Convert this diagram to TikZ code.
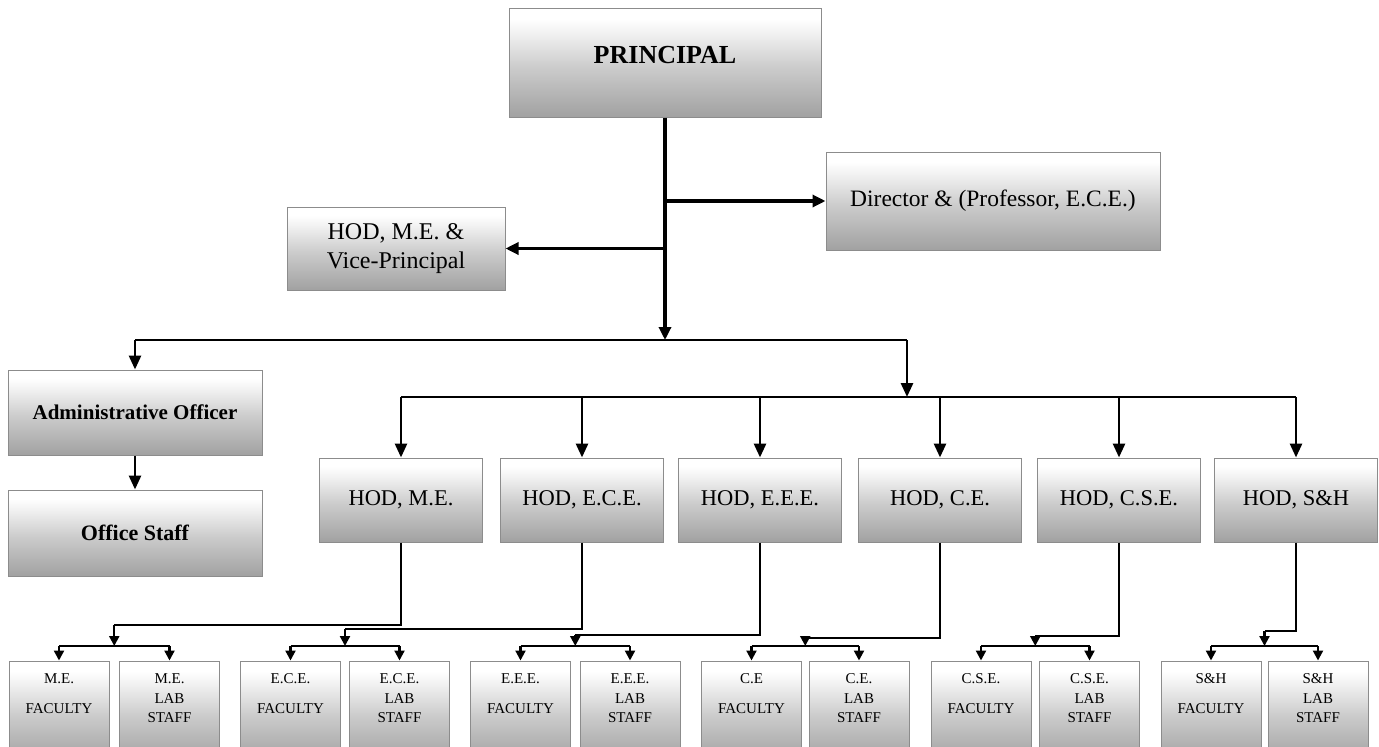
\documentclass[tikz,border=0pt]{standalone}
\usepackage{fontspec}
\setmainfont{Liberation Serif}
\usetikzlibrary{arrows.meta}

% white top, grey bottom, as in the boxes of the chart
\pgfdeclareverticalshading{boxshade}{100bp}{color(0bp)=(black!50); color(18bp)=(black!42); color(48bp)=(black!20); color(64bp)=(black!5); color(70bp)=(white); color(100bp)=(white)}

\begin{document}
\begin{tikzpicture}[x=1pt, y=-1pt,
  orgbox/.style={draw=black!45, line width=1pt, shading=boxshade, inner sep=0pt, align=center, text=black},
  hodbox/.style={orgbox, minimum width=163pt, minimum height=84pt, font=\fontsize{22.5}{26}\selectfont},
  leafbox/.style={orgbox, minimum width=100pt, minimum height=100pt},
  leaftext/.style={align=center, inner sep=0pt, font=\fontsize{15}{19.5}\selectfont},
  bigline/.style={line width=3.2pt},
  bigarrow/.style={bigline, -{Triangle[length=13pt,width=12pt]}},
  midline/.style={line width=2pt},
  midarrow/.style={line width=2.8pt, -{Triangle[length=14pt,width=12pt]}},
  lowline/.style={line width=1.6pt},
  lowarrow/.style={line width=2.2pt, -{Triangle[length=10pt,width=10pt]}}
]
\useasboundingbox (0,0) rectangle (1379,747);
\clip (0,0) rectangle (1379,747);

%% top of the chart
\node[orgbox, minimum width=312pt, minimum height=109pt, text height=18pt, text depth=16pt,
  font=\bfseries\fontsize{26}{30}\selectfont] (principal) at (665,62.5) {PRINCIPAL};
\node[orgbox, minimum width=334pt, minimum height=98pt,
  font=\fontsize{23.5}{27}\selectfont] (director) at (993,201) {Director \& (Professor, E.C.E.)};
\node[orgbox, minimum width=218pt, minimum height=83pt,
  font=\fontsize{24}{29}\selectfont] (vp) at (396,248.5) {HOD, M.E. \&\\Vice-Principal};

\coordinate (hub) at (665,340);
\coordinate (hubright) at (907,340);
\coordinate (deptbar) at (907,397);

\draw[bigarrow] (principal.south |- director.west) -- (director.west);
\draw[bigarrow] (principal.south |- vp.east) -- (vp.east);
\draw[bigarrow] (principal.south) -- (hub);

%% office side
\node[orgbox, minimum width=254pt, minimum height=85pt,
  font=\bfseries\fontsize{21}{25}\selectfont] (admin) at (135,412.5) {Administrative Officer};
\node[orgbox, minimum width=254pt, minimum height=86pt,
  font=\bfseries\fontsize{22}{26}\selectfont] (office) at (135,533) {Office Staff};

\draw[midline] (admin.north |- hub) -- (hubright);
\draw[midarrow] (admin.north |- hub) -- (admin.north);
\draw[midarrow] (admin.south) -- (office.north);
\draw[midarrow] (hubright) -- (deptbar);

%% heads of department
\foreach \dn/\hx/\txt in {me/401/{HOD, M.E.}, ece/582/{HOD, E.C.E.}, eee/760/{HOD, E.E.E.},
  ce/940/{HOD, C.E.}, cse/1119/{HOD, C.S.E.}, sh/1296/{HOD, S\&H}}
{
  \node[hodbox] (hod-\dn) at (\hx,500) {\txt};
  \draw[midarrow] (hod-\dn.north |- deptbar) -- (hod-\dn.north);
}
\draw[midline] (hod-me.north |- deptbar) -- (hod-sh.north |- deptbar);

%% faculty and lab staff under each HOD
\foreach \dn/\fx/\lx/\ey/\fab/\lab in {me/59/169.5/625/M.E./M.E., ece/290.5/399.5/629/E.C.E./E.C.E.,
  eee/520.5/630/635/E.E.E./E.E.E., ce/751.5/859/638/C.E/C.E., cse/981/1089.5/636/C.S.E./C.S.E.,
  sh/1211/1318/631/S\&H/S\&H}
{
  \node[leafbox] (\dn-fac) at (\fx,711) {};
  \node[leaftext] (\dn-factxt) at (\fx,693.5) {\fab\\[10pt]FACULTY};
  \node[leafbox] (\dn-lab) at (\lx,711) {};
  \node[leaftext] (\dn-labtxt) at (\lx,698.5) {\lab\\LAB\\STAFF};
  \coordinate (\dn-elbow) at ({(\fx+\lx)/2},\ey);
  \coordinate (\dn-join) at ({(\fx+\lx)/2},646);
  \draw[lowline] (hod-\dn.south) |- (\dn-elbow);
  \draw[lowarrow] (\dn-elbow) -- (\dn-join);
  \draw[midline] (\dn-fac.north |- \dn-join) -- (\dn-lab.north |- \dn-join);
  \draw[lowarrow] (\dn-fac.north |- \dn-join) -- (\dn-fac.north);
  \draw[lowarrow] (\dn-lab.north |- \dn-join) -- (\dn-lab.north);
}

\end{tikzpicture}
\end{document}
